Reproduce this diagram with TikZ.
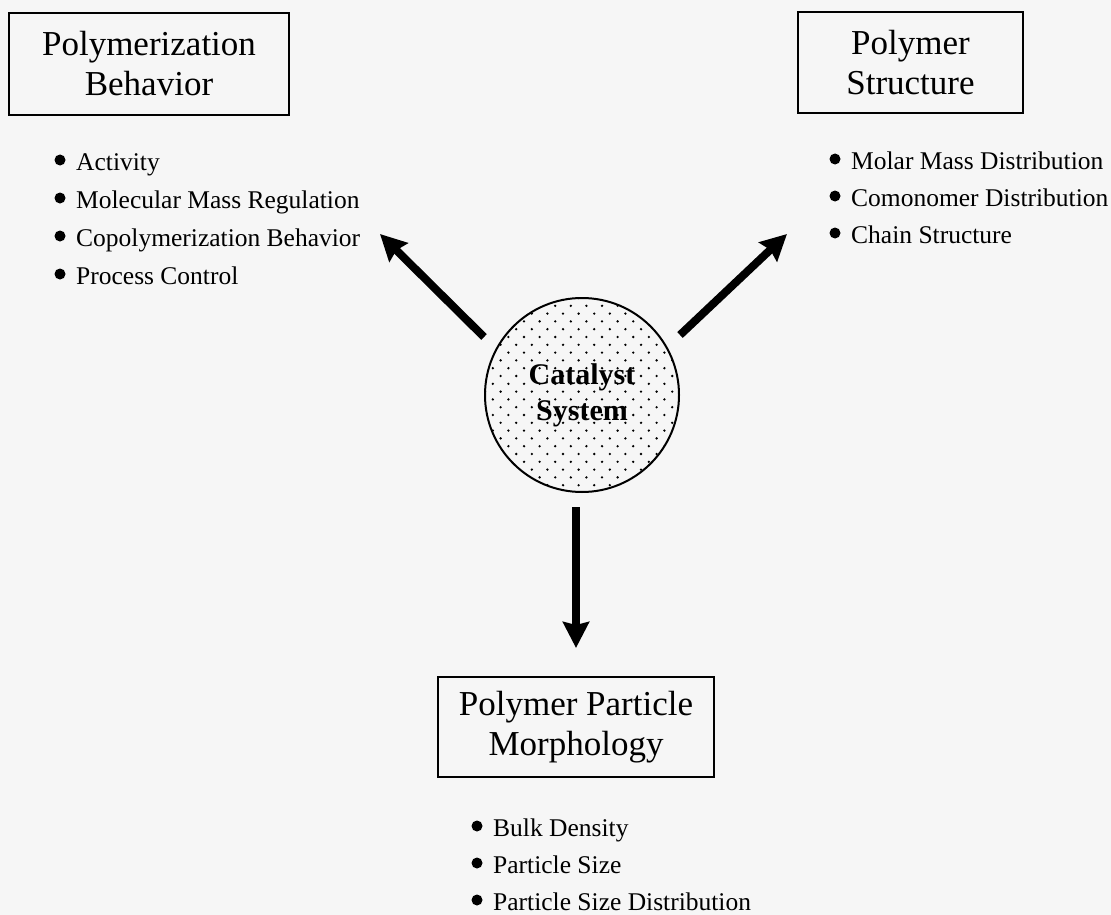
\documentclass[tikz,border=0pt]{standalone}
\usepackage{fontspec}
\setmainfont{Liberation Serif}
\usetikzlibrary{arrows.meta}
\definecolor{bg}{HTML}{F6F6F6}
\begin{document}
\begin{tikzpicture}[x=1pt,y=-1pt,
  titlebox/.style={draw=black,line width=2pt,align=center,inner sep=0pt,
    font=\fontsize{35}{40}\selectfont},
  item/.style={anchor=base west,inner sep=0pt,font=\fontsize{25.5}{30}\selectfont},
  arr/.style={line width=8pt,-{Stealth[length=26pt,width=26pt,inset=3pt]}},
  bul/.style={fill=black},
]
\useasboundingbox[fill=bg] (0,0) rectangle (1111,915);

% title boxes
\node[titlebox,minimum width=280pt,minimum height=102pt] (pb) at (149,64) {Polymerization\\Behavior};
\node[titlebox,minimum width=225pt,minimum height=101pt] (ps) at (910.5,62.5) {Polymer\\Structure};
\node[titlebox,minimum width=276pt,minimum height=100pt] (pm) at (576,727) {Polymer Particle\\Morphology};

% left list
\node[item] (a1) at (76,170) {Activity};
\node[item] (a2) at (76,208) {Molecular Mass Regulation};
\node[item] (a3) at (76,246) {Copolymerization Behavior};
\node[item] (a4) at (76,284) {Process Control};
% right list
\node[item] (b1) at (851,169) {Molar Mass Distribution};
\node[item] (b2) at (851,206) {Comonomer Distribution};
\node[item] (b3) at (851,243) {Chain Structure};
% bottom list
\node[item] (c1) at (493,836) {Bulk Density};
\node[item] (c2) at (493,873) {Particle Size};
\node[item] (c3) at (493,910) {Particle Size Distribution};

\foreach \n in {a1,a2,a3,a4,b1,b2,b3,c1,c2,c3}
  \fill[bul] ([xshift=-16pt,yshift=10pt]\n.base west) circle (5.5pt);

% dotted catalyst circle
\begin{scope}
  \clip (582,395) circle (97pt);
  \foreach \r in {0,...,26}
    \foreach \c in {0,...,13}
      \fill ({485+\c*15.6+mod(\r,2)*7.8},{298+\r*7.8}) circle (1.3pt);
\end{scope}
\node[circle,draw=black,line width=2pt,minimum size=194pt,inner sep=0pt,align=center,
  font=\bfseries\fontsize{30}{36}\selectfont] (cat) at (582,395) {Catalyst\\System};

% arrows
\coordinate (t1) at (484,337); \coordinate (h1) at (380,234);
\coordinate (t2) at (680,335); \coordinate (h2) at (787,234);
\coordinate (t3) at (576,507); \coordinate (h3) at (576,648);
\draw[arr] (t1) -- (h1);
\draw[arr] (t2) -- (h2);
\draw[arr] (t3) -- (h3);
\end{tikzpicture}
\end{document}
